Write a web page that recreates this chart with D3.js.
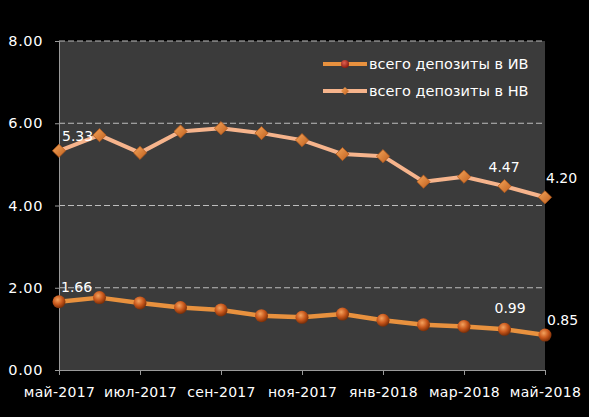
<!DOCTYPE html>
<html>
<head>
<meta charset="utf-8">
<script src="https://cdn.jsdelivr.net/npm/d3@7"></script>
<style>
  body { margin: 0; background: #000; }
  text { font-family: "DejaVu Sans", sans-serif; }
</style>
</head>
<body>
<div id="chart"></div>
<script>
const months = ['май-2017', 'июн-2017', 'июл-2017', 'авг-2017', 'сен-2017', 'окт-2017', 'ноя-2017',
                'дек-2017', 'янв-2018', 'фев-2018', 'мар-2018', 'апр-2018', 'май-2018'];
const seriesNames = ['всего депозиты в ИВ', 'всего депозиты в НВ'];
const ivValues = [1.66, 1.76, 1.63, 1.52, 1.46, 1.32, 1.28, 1.36, 1.21, 1.10, 1.06, 0.99, 0.85];
const nvValues = [5.33, 5.71, 5.28, 5.80, 5.88, 5.76, 5.59, 5.25, 5.20, 4.58, 4.70, 4.47, 4.20];
const yTicks = [0, 2, 4, 6, 8];
// which points carry a value label
const labelIdx = [0, 11, 12];

const width = 589, height = 417;
const margin = {top: 41, right: 44, bottom: 47, left: 59};
const w = width - margin.left - margin.right;
const h = height - margin.top - margin.bottom;

const svg = d3.select("#chart").append("svg")
    .attr("width", width)
    .attr("height", height)
    .style("background", "#000");

const defs = svg.append("defs");
const ball = defs.append("radialGradient").attr("id", "ball")
    .attr("cx", "40%").attr("cy", "35%").attr("r", "65%");
ball.append("stop").attr("offset", "0%").attr("stop-color", "#f3a25e");
ball.append("stop").attr("offset", "55%").attr("stop-color", "#c9581c");
ball.append("stop").attr("offset", "100%").attr("stop-color", "#7a2e08");

const dia = defs.append("linearGradient").attr("id", "dia")
    .attr("x1", "0%").attr("y1", "0%").attr("x2", "100%").attr("y2", "100%");
dia.append("stop").attr("offset", "0%").attr("stop-color", "#f5a55a");
dia.append("stop").attr("offset", "100%").attr("stop-color", "#c0601e");

const legBall = defs.append("radialGradient").attr("id", "legball")
    .attr("cx", "40%").attr("cy", "35%").attr("r", "65%");
legBall.append("stop").attr("offset", "0%").attr("stop-color", "#e06050");
legBall.append("stop").attr("offset", "100%").attr("stop-color", "#8a1a10");

const g = svg.append("g")
    .attr("transform", "translate(" + margin.left + "," + margin.top + ")");

const x = d3.scalePoint().domain(months).range([0, w]);
const y = d3.scaleLinear().domain([0, 8]).range([h, 0]);

g.append("rect")
    .attr("width", w)
    .attr("height", h)
    .attr("fill", "#3b3b3b");

// gridlines
g.selectAll(".grid")
    .data(yTicks.filter(d => d > 0))
    .enter().append("line")
    .attr("x1", 0).attr("x2", w)
    .attr("y1", d => y(d)).attr("y2", d => y(d))
    .attr("stroke", "#bdbdbd")
    .attr("stroke-width", 1)
    .attr("stroke-dasharray", "6,3");

// y axis
const yAxis = g.append("g")
    .call(d3.axisLeft(y).tickValues(yTicks).tickFormat(d3.format(".2f")).tickSize(4).tickPadding(12));
yAxis.select(".domain").attr("stroke", "#9a9a9a");
yAxis.selectAll(".tick line").attr("stroke", "#9a9a9a");
yAxis.selectAll("text")
    .attr("fill", "#fff")
    .style("font-size", "14.5px")
    .style("letter-spacing", "0.6px");

// x axis
const xAxis = g.append("g")
    .attr("transform", "translate(0," + h + ")")
    .call(d3.axisBottom(x)
        .tickValues(months.filter((d, i) => i % 2 === 0))
        .tickSize(5).tickPadding(12).tickSizeOuter(0));
xAxis.select(".domain").attr("stroke", "#9a9a9a");
xAxis.selectAll(".tick line").attr("stroke", "#9a9a9a");
xAxis.selectAll("text")
    .attr("fill", "#fff")
    .style("font-size", "14px")
    .style("letter-spacing", "0.3px");

const line = d3.line()
    .x((d, i) => x(months[i]))
    .y(d => y(d));

// НВ series
g.append("path")
    .datum(nvValues)
    .attr("d", line)
    .attr("fill", "none")
    .attr("stroke", "#f6b48c")
    .attr("stroke-width", 4)
    .attr("stroke-linejoin", "round");

g.selectAll(".nv")
    .data(nvValues)
    .enter().append("path")
    .attr("class", "nv")
    .attr("d", d3.symbol(d3.symbolDiamond2, 110)())
    .attr("transform", (d, i) => "translate(" + x(months[i]) + "," + y(d) + ")")
    .attr("fill", "url(#dia)")
    .attr("stroke", "#b55a1c")
    .attr("stroke-width", 0.8);

// ИВ series
g.append("path")
    .datum(ivValues)
    .attr("d", line)
    .attr("fill", "none")
    .attr("stroke", "#e8913e")
    .attr("stroke-width", 4.5)
    .attr("stroke-linejoin", "round");

g.selectAll(".iv")
    .data(ivValues)
    .enter().append("circle")
    .attr("class", "iv")
    .attr("cx", (d, i) => x(months[i]))
    .attr("cy", d => y(d))
    .attr("r", 6.5)
    .attr("fill", "url(#ball)");

// value labels
const labelOffset = {0: [3, -10], 11: [-16, -14], 12: [1, -14]};
const ivOffset = {0: [2, -10], 11: [-10, -16], 12: [2, -10]};
g.selectAll(".nvlab")
    .data(labelIdx)
    .enter().append("text")
    .attr("x", i => x(months[i]) + labelOffset[i][0])
    .attr("y", i => y(nvValues[i]) + labelOffset[i][1])
    .attr("fill", "#fff")
    .style("font-size", "14px")
    .text(i => nvValues[i].toFixed(2));
g.selectAll(".ivlab")
    .data(labelIdx)
    .enter().append("text")
    .attr("x", i => x(months[i]) + ivOffset[i][0])
    .attr("y", i => y(ivValues[i]) + ivOffset[i][1])
    .attr("fill", "#fff")
    .style("font-size", "14px")
    .text(i => ivValues[i].toFixed(2));

// legend
const legend = g.selectAll(".legend")
    .data(seriesNames)
    .enter().append("g")
    .attr("transform", (d, i) => "translate(" + (w - 222) + "," + (23 + i * 27) + ")");
legend.append("line")
    .attr("x1", 0).attr("x2", 44)
    .attr("stroke", (d, i) => i === 0 ? "#e8913e" : "#f6b48c")
    .attr("stroke-width", 4);
legend.filter((d, i) => i === 0).append("circle")
    .attr("cx", 22).attr("r", 4)
    .attr("fill", "url(#legball)");
legend.filter((d, i) => i === 1).append("path")
    .attr("d", d3.symbol(d3.symbolDiamond2, 40)())
    .attr("transform", "translate(22,0)")
    .attr("fill", "url(#dia)");
legend.append("text")
    .attr("x", 46)
    .attr("dy", "0.35em")
    .attr("fill", "#fff")
    .style("font-size", "14.5px")
    .text(d => d);
</script>
</body>
</html>
